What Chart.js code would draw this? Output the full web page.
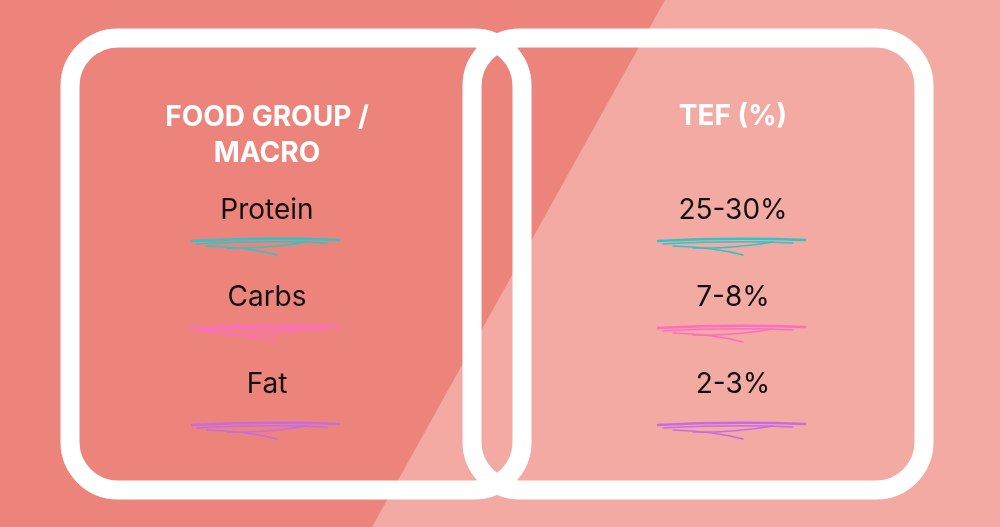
<!DOCTYPE html>
<html><head><meta charset="utf-8">
<script src="https://cdn.jsdelivr.net/npm/chart.js@4"></script>
<style>html,body{margin:0;padding:0;overflow:hidden}#w{width:1000px;height:527px;position:relative}</style>
</head><body><div id="w"><canvas id="c"></canvas></div>
<script>
const categories = ["Protein", "Carbs", "Fat"];
const tefValues = ["25-30%", "7-8%", "2-3%"];
const headers = ["FOOD GROUP /\nMACRO", "TEF (%)"];
const strokeColors = ["#2EC4C8", "#FF6CC4", "#C86AE6"];
const rowY = [211, 298, 385];
const colX = [267, 733];

const pts = [];
categories.forEach((c, i) => { pts.push({x: colX[0], y: rowY[i], t: c, i}); pts.push({x: colX[1], y: rowY[i], t: tefValues[i], i}); });

const deco = {
  id: 'deco',
  beforeDraw(ch) {
    const g = ch.ctx;
    g.save();
    g.fillStyle = '#EC847B'; g.fillRect(0, 0, 1000, 527);
    g.fillStyle = '#F3AAA3';
    g.beginPath(); g.moveTo(665, 0); g.lineTo(1000, 0); g.lineTo(1000, 527); g.lineTo(372, 527); g.closePath(); g.fill();
    g.strokeStyle = '#fff'; g.lineWidth = 19;
    g.beginPath(); g.roundRect(70, 38, 452, 452, 48); g.stroke();
    g.beginPath(); g.roundRect(472, 38, 452, 452, 48); g.stroke();
    g.restore();
  },
  afterDatasetsDraw(ch) {
    const g = ch.ctx, xs = ch.scales.x, ys = ch.scales.y;
    g.save();
    g.textAlign = 'center'; g.textBaseline = 'middle';
    g.fillStyle = '#fff'; g.font = 'bold 28px Inter, sans-serif';
    const hl = headers[0].split('\n');
    hl.forEach((l, k) => g.fillText(l, xs.getPixelForValue(colX[0]), ys.getPixelForValue(118 + k * 36)));
    g.fillText(headers[1], xs.getPixelForValue(colX[1]), ys.getPixelForValue(117));
    const meta = ch.getDatasetMeta(0);
    g.font = '28px Inter, sans-serif'; g.fillStyle = '#111';
    meta.data.forEach((el, k) => {
      const p = pts[k];
      g.fillStyle = '#111';
      g.fillText(p.t, el.x, el.y);
      const by = el.y + (p.i === 2 ? 42 : 32);
      g.strokeStyle = strokeColors[p.i]; g.lineCap = 'round';
      g.lineWidth = 2.5;
      g.beginPath(); g.moveTo(el.x - 75, by - 2); g.quadraticCurveTo(el.x, by - 6, el.x + 72, by - 3); g.stroke();
      g.lineWidth = 1.5;
      g.beginPath(); g.moveTo(el.x - 70, by + 1); g.quadraticCurveTo(el.x, by - 3, el.x + 60, by); g.stroke();
      g.beginPath(); g.moveTo(el.x - 60, by + 3); g.quadraticCurveTo(el.x - 20, by + 4, el.x + 10, by + 12); g.stroke();
      g.beginPath(); g.moveTo(el.x - 40, by + 5); g.quadraticCurveTo(el.x, by + 6, el.x + 40, by - 1); g.stroke();
    });
    g.restore();
  }
};

new Chart(document.getElementById('c'), {
  type: 'scatter',
  data: { datasets: [{ data: pts, pointRadius: 0, pointHoverRadius: 0 }] },
  options: {
    responsive: true, maintainAspectRatio: false, animation: false,
    layout: { padding: 0 },
    plugins: { legend: { display: false }, tooltip: { enabled: false } },
    scales: {
      x: { type: 'linear', min: 0, max: 1000, display: false },
      y: { type: 'linear', min: 0, max: 527, reverse: true, display: false }
    }
  },
  plugins: [deco]
});
</script></body></html>
